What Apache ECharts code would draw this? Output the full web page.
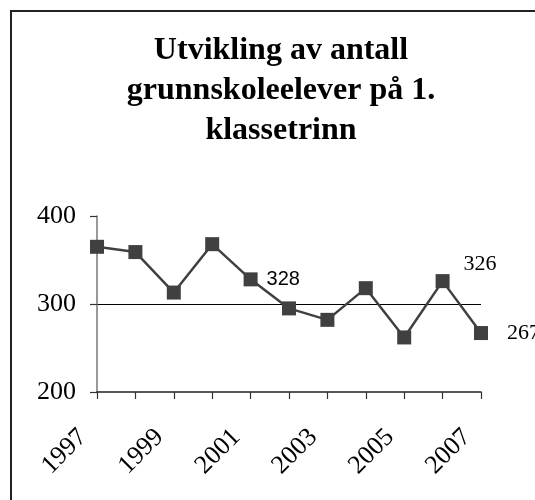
<!DOCTYPE html>
<html>
<head>
<meta charset="utf-8">
<script src="https://cdn.jsdelivr.net/npm/echarts@6/dist/echarts.min.js"></script>
<style>
  html, body { margin: 0; padding: 0; background: #fff; }
  #chart { width: 535px; height: 500px; }
</style>
</head>
<body>
<div id="chart"></div>
<script>
// Number of first-grade pupils per school year
const years = ['1997', '1998', '1999', '2000', '2001', '2002', '2003', '2004', '2005', '2006', '2007'];
const pupils = [365, 359, 313, 368, 328, 295, 282, 318, 262, 326, 267];
// Years whose value is printed next to the marker
const labelledYears = ['2001', '2006', '2007'];

const titleText = 'Utvikling av antall\ngrunnskoleelever på 1.\nklassetrinn';

const serif = '"Liberation Serif", "Times New Roman", serif';
const sans = '"Liberation Sans", Arial, sans-serif';
const ink = '#404040';

// Per-year label styling
const labelStyles = {
  '2001': { position: 'right', distance: 9, fontFamily: sans, fontSize: 20 },
  '2006': { position: 'right', distance: 14, offset: [0, -17], fontFamily: serif, fontSize: 22 },
  '2007': { position: 'right', distance: 19, fontFamily: serif, fontSize: 22 }
};

const seriesData = pupils.map((v, i) => {
  const y = years[i];
  if (labelledYears.indexOf(y) < 0) return v;
  return {
    value: v,
    label: Object.assign({ show: true, color: '#000', formatter: '{c}' }, labelStyles[y])
  };
});

const chart = echarts.init(document.getElementById('chart'), null, { renderer: 'canvas' });
chart.setOption({
  backgroundColor: '#fff',
  animation: false,
  graphic: [{
    type: 'rect',
    shape: { x: 11, y: 11, width: 700, height: 700 },
    style: { fill: 'none', stroke: '#222', lineWidth: 2 },
    silent: true,
    z: -1
  }],
  title: {
    text: titleText,
    left: 276,
    top: 26,
    textAlign: 'center',
    textStyle: {
      fontFamily: serif,
      fontWeight: 'bold',
      fontSize: 32,
      lineHeight: 40,
      color: '#000'
    }
  },
  grid: { left: 97, right: 54, top: 216, bottom: 108, containLabel: false },
  xAxis: {
    type: 'category',
    data: years,
    boundaryGap: false,
    axisLine: { lineStyle: { color: '#222', width: 1.5 } },
    axisTick: { show: true, interval: 0, length: 7, lineStyle: { color: '#333', width: 1.2 } },
    axisLabel: {
      interval: 1,
      rotate: 45,
      margin: 27,
      padding: [0, 20, 0, 0],
      fontFamily: serif,
      fontSize: 26,
      color: '#000'
    },
    splitLine: { show: false }
  },
  yAxis: {
    type: 'value',
    min: 200,
    max: 400,
    interval: 100,
    axisLine: { show: true, lineStyle: { color: '#777', width: 1.5 } },
    axisTick: { show: true, length: 7, lineStyle: { color: '#333', width: 1.2 } },
    axisLabel: {
      margin: 21,
      fontFamily: serif,
      fontSize: 26,
      color: '#000'
    },
    // only the middle grid line is drawn
    splitLine: { show: true, lineStyle: { color: ['transparent', '#000', 'transparent'], width: 1 } }
  },
  series: [{
    type: 'line',
    data: seriesData,
    symbol: 'rect',
    symbolSize: 14,
    lineStyle: { color: ink, width: 2.5 },
    itemStyle: { color: ink },
    label: { show: false },
    emphasis: { disabled: true }
  }]
});
</script>
</body>
</html>
